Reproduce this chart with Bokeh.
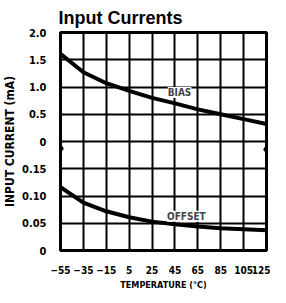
from bokeh.plotting import figure
from bokeh.models import Range1d, FixedTicker, Label
from bokeh.embed import file_html
from bokeh.resources import INLINE

# ---- data ----
temperature = [-55, -35, -15, 5, 25, 45, 65, 85, 105, 125]
bias_ma = [1.61, 1.27, 1.07, 0.93, 0.80, 0.70, 0.59, 0.50, 0.41, 0.32]
offset_ma = [0.116, 0.088, 0.072, 0.061, 0.053, 0.048, 0.044, 0.041, 0.039, 0.037]
x_ticks = [-55, -35, -15, 5, 25, 45, 65, 85, 105, 125]
# left axis: lower half = offset scale (0..0.2), upper half = bias scale (0..2)
y_ticks = [0, 0.05, 0.1, 0.15, 0.2, 0.25, 0.3, 0.35, 0.4]
y_tick_labels = ["0", "0.05", "0.10", "0.15", "0", "0.5", "1.0", "1.5", "2.0"]
break_level = 0.183

FONT = "DejaVu Sans Condensed"

p = figure(width=270, height=292, output_backend="svg", toolbar_location=None,
           x_range=Range1d(-55, 125), y_range=Range1d(0, 0.4),
           min_border_left=52, min_border_right=4, min_border_top=31,
           min_border_bottom=41, title="Input Currents")
p.extra_y_ranges = {"bias": Range1d(-2, 2)}

p.title.text_font = "Liberation Sans"
p.title.text_font_size = "18px"
p.title.text_font_style = "bold"
p.title.text_color = "black"
p.title.standoff = 10
p.title.offset = -2

p.outline_line_color = "black"
p.outline_line_width = 3
p.background_fill_color = "white"
p.border_fill_color = "white"

xa = p.xaxis[0]
xa.ticker = FixedTicker(ticks=x_ticks)
ya = p.yaxis[0]
ya.ticker = FixedTicker(ticks=y_ticks)
ya.major_label_overrides = {t: l for t, l in zip(y_ticks, y_tick_labels)}
for ax in (xa, ya):
    ax.axis_line_color = None
    ax.major_tick_line_color = None
    ax.minor_tick_line_color = None
    ax.major_label_text_font = FONT
    ax.major_label_text_font_style = "bold"
    ax.major_label_text_font_size = "11px"
    ax.major_label_text_color = "black"
    ax.axis_label_text_font = FONT
    ax.axis_label_text_font_style = "bold"
    ax.axis_label_text_color = "black"
xa.major_label_text_font_size = "10px"
xa.axis_label = "TEMPERATURE (°C)"
xa.axis_label_text_font_size = "9px"
xa.major_label_standoff = 9
xa.axis_label_standoff = 3
ya.axis_label = "INPUT CURRENT (mA)"
ya.axis_label_text_font_size = "12px"
ya.major_label_standoff = 8
ya.axis_label_standoff = 2

p.xgrid.ticker = FixedTicker(ticks=x_ticks)
p.ygrid.ticker = FixedTicker(ticks=y_ticks)
for g in (p.xgrid[0], p.ygrid[0]):
    g.grid_line_color = "black"
    g.grid_line_width = 2
    g.grid_line_alpha = 1

p.line(temperature, bias_ma, y_range_name="bias", line_color="black", line_width=4)
p.line(temperature, offset_ma, line_color="black", line_width=4)

p.add_layout(Label(x=49, y=0.9, y_range_name="bias", text="BIAS", text_font=FONT,
                   text_font_style="bold", text_font_size="10px", text_align="center",
                   text_baseline="middle", background_fill_color="white"))
p.add_layout(Label(x=55, y=0.063, text="OFFSET", text_font=FONT,
                   text_font_style="bold", text_font_size="10px", text_align="center",
                   text_baseline="middle", background_fill_color="white"))

# axis break marks
p.line([-55, -53, -56.5, -55], [break_level + 0.01, break_level + 0.004, break_level - 0.004, break_level - 0.01],
       line_color="black", line_width=2)
p.line([125, 123, 126.5, 125], [break_level + 0.008, break_level + 0.002, break_level - 0.006, break_level - 0.012],
       line_color="black", line_width=2)

open("out.html", "w").write(file_html(p, INLINE))
